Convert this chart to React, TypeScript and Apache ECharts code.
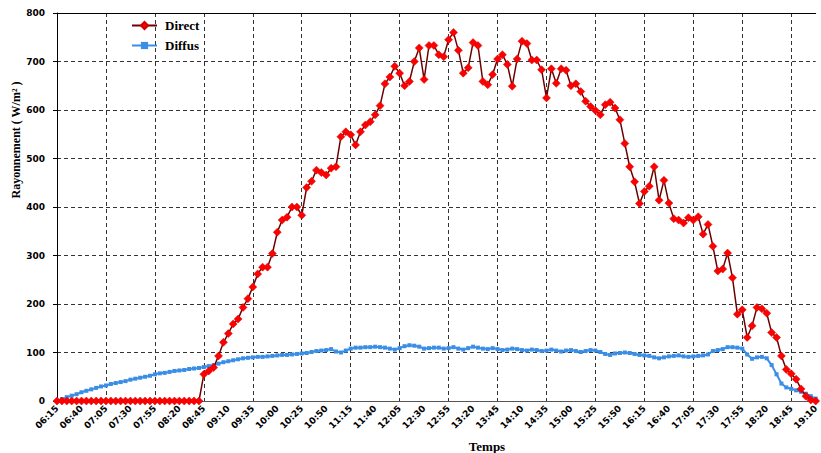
import { useEffect, useRef } from "react";
import * as echarts from "echarts";

// 5-minute time stamps from 06:15 to 19:10
const startTime = "06:15";
const endTime = "19:10";
const stepMinutes = 5;

function buildTimes(): string[] {
  const [sh, sm] = startTime.split(":").map(Number);
  const [eh, em] = endTime.split(":").map(Number);
  const out: string[] = [];
  for (let m = sh * 60 + sm; m <= eh * 60 + em; m += stepMinutes) {
    const h = Math.floor(m / 60);
    const mm = m % 60;
    out.push(String(h).padStart(2, "0") + ":" + String(mm).padStart(2, "0"));
  }
  return out;
}
const times = buildTimes();

const seriesNames = ["Direct", "Diffus"];

const direct = [
  0, 0, 0, 0, 0, 0, 0, 0, 0, 0,
  0, 0, 0, 0, 0, 0, 0, 0, 0, 0,
  0, 0, 0, 0, 0, 0, 0, 0, 0, 0,
  55, 62, 69, 93, 121, 139, 159, 169, 193, 211,
  235, 262, 276, 276, 304, 348, 373, 379, 400, 400,
  383, 440, 453, 476, 471, 466, 480, 483, 545, 555,
  549, 528, 555, 569, 576, 590, 609, 654, 668, 690,
  676, 650, 659, 700, 728, 663, 733, 733, 714, 710,
  745, 760, 723, 676, 687, 739, 733, 659, 652, 673,
  705, 714, 694, 649, 705, 742, 737, 703, 703, 683,
  625, 685, 655, 685, 682, 650, 654, 638, 618, 607,
  599, 590, 611, 616, 604, 580, 531, 483, 452, 407,
  432, 443, 483, 414, 455, 408, 376, 373, 367, 378,
  373, 380, 344, 364, 319, 268, 272, 305, 254, 179,
  188, 131, 155, 193, 190, 181, 141, 131, 93, 65,
  56, 45, 25, 10, 2, 0,
];

const diffus = [
  0, 4, 8, 11, 14, 18, 21, 24, 27, 30,
  32, 35, 37, 39, 41, 44, 46, 48, 50, 52,
  55, 57, 58, 60, 62, 63, 64, 66, 67, 68,
  70, 72, 74, 77, 80, 82, 84, 86, 88, 89,
  90, 91, 91, 92, 93, 94, 95, 95, 96, 97,
  98, 99, 101, 103, 104, 105, 107, 102, 100, 104,
  108, 110, 110, 111, 111, 112, 111, 110, 108, 106,
  109, 113, 115, 114, 112, 108, 109, 110, 110, 108,
  109, 111, 108, 106, 109, 112, 110, 108, 107, 109,
  107, 105, 106, 108, 107, 105, 104, 106, 105, 103,
  104, 106, 104, 102, 104, 105, 103, 101, 103, 105,
  104, 101, 97, 95, 98, 99, 100, 99, 97, 95,
  94, 93, 90, 88, 90, 92, 93, 94, 92, 91,
  92, 93, 94, 96, 103, 105, 107, 111, 111, 110,
  108, 96, 87, 90, 91, 88, 74, 55, 36, 28,
  25, 22, 19, 15, 10, 5,
];

const yTicks = { min: 0, max: 800, interval: 100 };
const yTitle = "Rayonnement ( W/m² )";
const xTitle = "Temps";

export default function App() {
  const ref = useRef<HTMLDivElement>(null);
  useEffect(() => {
    document.body.style.margin = "0";
    if (!ref.current) return;
    const chart = echarts.init(ref.current, undefined, { renderer: "svg" });
    const dashed = { type: [4, 3] as any, color: "#333", width: 1 };
    chart.setOption({
      animation: false,
      backgroundColor: "#ffffff",
      grid: { left: 57, right: 3, top: 13, bottom: 52 },
      legend: {
        data: seriesNames,
        orient: "vertical",
        left: 126,
        top: 14,
        itemWidth: 25,
        itemHeight: 9,
        itemGap: 7,
        textStyle: {
          fontFamily: "Liberation Serif",
          fontWeight: "bold",
          fontSize: 13,
          color: "#000",
          padding: [0, 0, 0, 3],
        },
      },
      xAxis: [
        {
          type: "category",
          data: times,
          boundaryGap: false,
          axisLine: { lineStyle: { color: "#555", width: 1 } },
          axisTick: { show: false },
          axisLabel: {
            interval: 4,
            rotate: 45,
            fontSize: 9,
            fontWeight: "bold",
            fontFamily: "DejaVu Sans",
            color: "#000",
            margin: 6,
          },
          splitLine: { show: true, interval: 9, lineStyle: dashed },
        },
        {
          type: "category",
          position: "top",
          data: times,
          boundaryGap: false,
          axisLine: { show: true, lineStyle: { color: "#000", width: 1 } },
          axisTick: { show: false },
          axisLabel: { show: false },
          splitLine: { show: false },
        },
      ],
      yAxis: {
        type: "value",
        min: yTicks.min,
        max: yTicks.max,
        interval: yTicks.interval,
        axisLine: { show: true, lineStyle: { color: "#000", width: 1 } },
        axisTick: { show: true, length: 4, lineStyle: { color: "#000" } },
        axisLabel: {
          fontSize: 9,
          fontWeight: "bold",
          fontFamily: "DejaVu Sans",
          color: "#000",
          margin: 12,
        },
        splitLine: { lineStyle: dashed },
      },
      graphic: [
        {
          type: "text",
          x: 16,
          y: 140,
          rotation: Math.PI / 2,
          style: {
            text: yTitle,
            font: 'bold 12px "Liberation Serif"',
            fill: "#000",
            align: "center",
            verticalAlign: "middle",
          },
        },
        {
          type: "text",
          x: 487,
          y: 446,
          style: {
            text: xTitle,
            font: 'bold 13px "Liberation Serif"',
            fill: "#000",
            align: "center",
            verticalAlign: "middle",
          },
        },
      ],
      series: [
        {
          name: seriesNames[0],
          type: "line",
          data: direct,
          symbol: "diamond",
          symbolSize: 8,
          showAllSymbol: true,
          lineStyle: { color: "#6d0000", width: 1.5 },
          itemStyle: { color: "#ff0000", borderColor: "#d00000", borderWidth: 0.5 },
          z: 3,
        },
        {
          name: seriesNames[1],
          type: "line",
          data: diffus,
          symbol: "rect",
          symbolSize: 4,
          showAllSymbol: true,
          lineStyle: { color: "#3a8ee6", width: 2 },
          itemStyle: { color: "#3a8ee6" },
          z: 2,
        },
      ],
    });
    return () => chart.dispose();
  }, []);
  return <div ref={ref} style={{ width: 821, height: 453 }} />;
}
